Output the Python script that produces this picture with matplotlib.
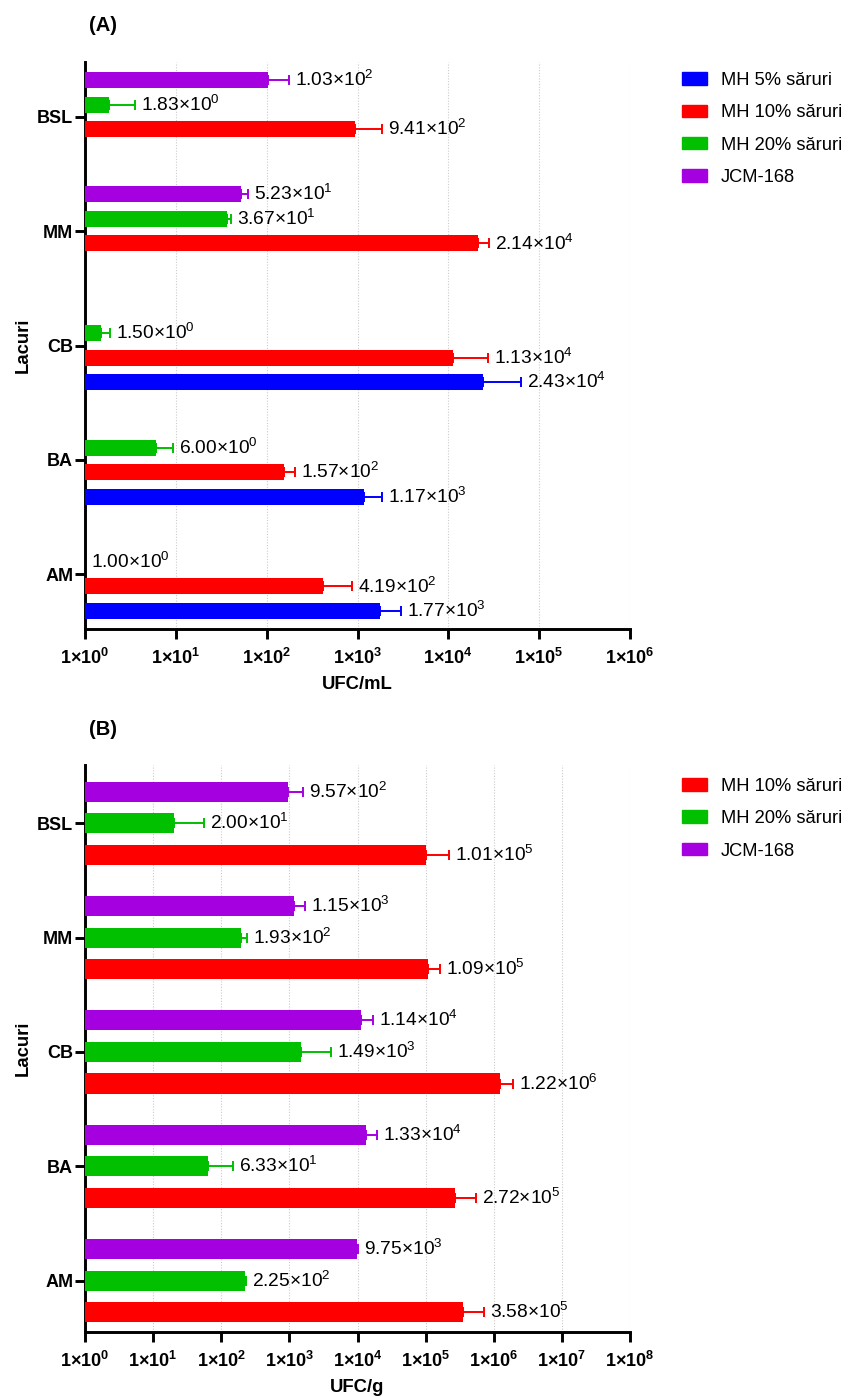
import numpy as np
import matplotlib.pyplot as plt
from matplotlib.patches import Patch

plt.rcParams['font.family'] = ['Liberation Sans', 'DejaVu Sans']
plt.rcParams['mathtext.default'] = 'regular'

LAKES = ['AM', 'BA', 'CB', 'MM', 'BSL']

# Panel A: UFC/mL (NaN = not determined)
A_MH5 = [1.77e3, 1.17e3, 2.43e4, np.nan, np.nan]
A_MH5_ERR = [1230, 690, 39000, np.nan, np.nan]
A_MH10 = [4.19e2, 1.57e2, 1.13e4, 2.14e4, 9.41e2]
A_MH10_ERR = [450, 48, 16000, 6600, 920]
A_MH20 = [1.00e0, 6.00e0, 1.50e0, 3.67e1, 1.83e0]
A_MH20_ERR = [0, 3.3, 0.4, 4, 1.7]
A_JCM = [np.nan, np.nan, np.nan, 5.23e1, 1.03e2]
A_JCM_ERR = [np.nan, np.nan, np.nan, 10, 73]

# Panel B: UFC/g
B_MH10 = [3.58e5, 2.72e5, 1.22e6, 1.09e5, 1.01e5]
B_MH10_ERR = [3.5e5, 2.8e5, 7.0e5, 5.4e4, 1.2e5]
B_MH20 = [2.25e2, 6.33e1, 1.49e3, 1.93e2, 2.00e1]
B_MH20_ERR = [8, 86, 2600, 47, 36]
B_JCM = [9.75e3, 1.33e4, 1.14e4, 1.15e3, 9.57e2]
B_JCM_ERR = [300, 6000, 5600, 550, 630]

BLUE = '#0000FF'
RED = '#FF0000'
GREEN = '#00C000'
PURPLE = '#A500E0'

LABEL_FS = 13.8
TICK_FS = 13
LEG_FS = 13.2


def sci_label(v):
    exp = int(np.floor(np.log10(v)))
    mant = v / 10 ** exp
    return f'{mant:.2f}×10$^{{{exp}}}$'


def draw_series(ax, y, vals, errs, color, height, span):
    for yi, v, e in zip(y, vals, errs):
        if np.isnan(v):
            continue
        # bars start at the axis origin (1 on the log scale)
        ax.barh(yi, v - 1, height=height, color=color, left=1, zorder=3)
        end = v
        if e > 0:
            ax.errorbar(v, yi, xerr=[[0], [e]], fmt='none', ecolor=color,
                        elinewidth=1.4, capsize=3.3, capthick=1.4, zorder=4)
            end = v + e
        xt = end * 10 ** (span * 0.011)
        ax.text(xt, yi, sci_label(v), va='center', ha='left',
                fontsize=LABEL_FS, zorder=5)


def style_axis(ax, ndec, xlabel):
    ax.set_xscale('log')
    ax.set_xlim(1, 10 ** ndec)
    ticks = [10 ** k for k in range(ndec + 1)]
    ax.set_xticks(ticks)
    ax.set_xticklabels([f'1×10$^{{{k}}}$' for k in range(ndec + 1)],
                       fontweight='bold', fontsize=TICK_FS)
    ax.xaxis.set_minor_locator(plt.NullLocator())
    ax.set_yticks(range(len(LAKES)))
    ax.set_yticklabels(LAKES, fontweight='bold', fontsize=TICK_FS)
    ax.spines['top'].set_visible(False)
    ax.spines['right'].set_visible(False)
    ax.spines['left'].set_linewidth(2.1)
    ax.spines['bottom'].set_linewidth(2.1)
    ax.tick_params(axis='both', width=2.1, length=7.5, direction='out')
    ax.tick_params(axis='x', pad=6)
    ax.tick_params(axis='y', pad=1)
    ax.grid(axis='x', color='#cccccc', linestyle=(0, (1, 1.5)), linewidth=0.8, zorder=0)
    ax.set_axisbelow(True)
    ax.set_xlabel(xlabel, fontweight='bold', fontsize=13.3, labelpad=6)
    ax.set_ylabel('Lacuri', fontweight='bold', fontsize=13.3, labelpad=4)


def add_legend(handles, top):
    fig.legend(handles=handles, loc='upper left', bbox_to_anchor=(0.782, top),
               frameon=False, fontsize=LEG_FS, handlelength=1.36, handleheight=0.67,
               handletextpad=0.75, labelspacing=0.84, borderpad=0.4)


fig = plt.figure(figsize=(8.51, 13.97), dpi=100)
y = np.arange(len(LAKES))

# (A)
axA = fig.add_axes([0.0999, 0.5497, 0.6404, 0.4059])
step = 0.2145
hA = 0.14
draw_series(axA, y - 1.5 * step, A_MH5, A_MH5_ERR, BLUE, hA, 6)
draw_series(axA, y - 0.5 * step, A_MH10, A_MH10_ERR, RED, hA, 6)
draw_series(axA, y + 0.5 * step, A_MH20, A_MH20_ERR, GREEN, hA, 6)
draw_series(axA, y + 1.5 * step, A_JCM, A_JCM_ERR, PURPLE, hA, 6)
axA.set_ylim(-0.48, 4.48)
style_axis(axA, 6, 'UFC/mL')
fig.text(0.1045, 0.982, '(A)', fontweight='bold', fontsize=14.5, va='center')

add_legend([Patch(color=BLUE, label='MH 5% săruri'),
            Patch(color=RED, label='MH 10% săruri'),
            Patch(color=GREEN, label='MH 20% săruri'),
            Patch(color=PURPLE, label='JCM-168')], 0.9604)

# (B)
axB = fig.add_axes([0.0999, 0.0465, 0.6404, 0.4059])
stepB = 0.276
hB = 0.175
draw_series(axB, y - stepB, B_MH10, B_MH10_ERR, RED, hB, 8)
draw_series(axB, y, B_MH20, B_MH20_ERR, GREEN, hB, 8)
draw_series(axB, y + stepB, B_JCM, B_JCM_ERR, PURPLE, hB, 8)
axB.set_ylim(-0.45, 4.51)
style_axis(axB, 8, 'UFC/g')
fig.text(0.1045, 0.4775, '(B)', fontweight='bold', fontsize=14.5, va='center')

add_legend([Patch(color=RED, label='MH 10% săruri'),
            Patch(color=GREEN, label='MH 20% săruri'),
            Patch(color=PURPLE, label='JCM-168')], 0.4551)

fig.savefig('out.png', dpi=100)
